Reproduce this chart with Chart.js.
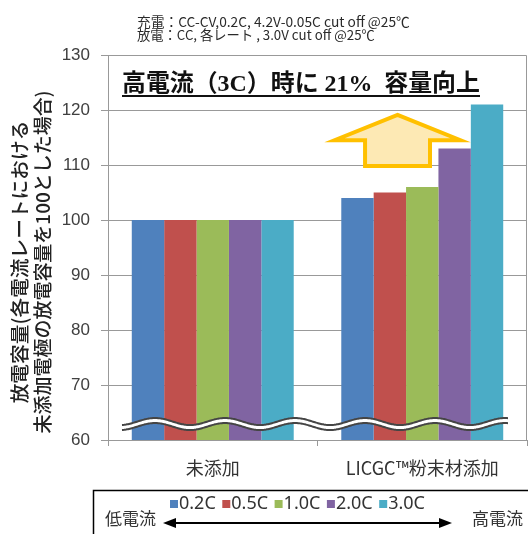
<!DOCTYPE html>
<html>
<head>
<meta charset="utf-8">
<script src="https://cdn.jsdelivr.net/npm/chart.js@4.4.1/dist/chart.umd.min.js"></script>
<style>
    html, body { margin: 0; padding: 0; background: #fff; }
    #wrap { width: 528px; height: 534px; }
</style>
</head>
<body>
<div id="wrap"><canvas id="rateChart" width="528" height="534"></canvas></div>
<script>
// --- data ---
const categories = ['未添加', 'LICGC™粉末材添加'];
const rateLabels = ['0.2C', '0.5C', '1.0C', '2.0C', '3.0C'];
const capacity02C = [100, 104];
const capacity05C = [100, 105];
const capacity10C = [100, 106];
const capacity20C = [100, 113];
const capacity30C = [100, 121];
const yTicks = [60, 70, 80, 90, 100, 110, 120, 130];

const headerLines = ['充電：CC-CV,0.2C, 4.2V-0.05C cut off @25℃', '放電：CC, 各レート , 3.0V cut off @25℃'];
const yTitleLines = ['放電容量(各電流レートにおける', '未添加電極の放電容量を100とした場合)'];
const calloutText = '高電流（3C）時に 21%  容量向上';
const lowLabel = '低電流';
const highLabel = '高電流';

const rateColors = ['#4F81BD', '#C0504D', '#9BBB59', '#8064A2', '#4BACC6'];
const seriesValues = [capacity02C, capacity05C, capacity10C, capacity20C, capacity30C];

const CJK = '"Noto Sans CJK JP", "Noto Sans", sans-serif';

// fit a string into a given width by scaling the font size
function fitFont(ctx, text, weight, family, size, width) {
    ctx.font = `${weight} ${size}px ${family}`;
    const w = ctx.measureText(text).width;
    const s = size * width / w;
    ctx.font = `${weight} ${s.toFixed(2)}px ${family}`;
}

// frame round the plot area (top and right sides)
const plotFrame = {
    id: 'plotFrame',
    beforeDatasetsDraw(chart) {
        const { ctx, chartArea: a } = chart;
        ctx.save();
        ctx.strokeStyle = '#999';
        ctx.lineWidth = 1;
        ctx.beginPath();
        ctx.moveTo(a.left, a.top + 0.5);
        ctx.lineTo(a.right - 0.5, a.top + 0.5);
        ctx.lineTo(a.right - 0.5, a.bottom);
        ctx.stroke();
        ctx.restore();
    }
};

// wavy axis break drawn over the bars
const axisBreak = {
    id: 'axisBreak',
    afterDatasetsDraw(chart) {
        const { ctx, chartArea: a } = chart;
        const y = chart.scales.y;
        const upper = y.getPixelForValue(63.36);
        const lower = y.getPixelForValue(62.45);
        const x0 = a.left + 14, x1 = a.right - 19;
        const period = 70, amp = 3.5, peak = a.left + 47;
        const wave = (x, c) => c - amp * Math.cos(2 * Math.PI * (x - peak) / period);

        ctx.save();
        ctx.fillStyle = '#fff';
        ctx.beginPath();
        for (let x = x0; x <= x1; x++) ctx.lineTo(x, wave(x, upper));
        for (let x = x1; x >= x0; x--) ctx.lineTo(x, wave(x, lower));
        ctx.closePath();
        ctx.fill();

        ctx.strokeStyle = '#454545';
        ctx.lineWidth = 2;
        [upper, lower].forEach(c => {
            ctx.beginPath();
            for (let x = x0; x <= x1; x++) ctx.lineTo(x, wave(x, c));
            ctx.stroke();
        });
        ctx.restore();
    }
};

// underlined note and the big yellow arrow
const callout = {
    id: 'callout',
    afterDatasetsDraw(chart) {
        const { ctx } = chart;
        const xs = chart.scales.x, ys = chart.scales.y;
        const catW = xs.getPixelForValue(1) - xs.getPixelForValue(0);
        const cx = xs.getPixelForValue(1) - 0.118 * catW;
        const wing = 0.3 * catW, stem = 0.155 * catW;
        const tip = ys.getPixelForValue(119.1);
        const shoulder = ys.getPixelForValue(114.5);
        const base = ys.getPixelForValue(109.8);

        ctx.save();
        ctx.beginPath();
        ctx.moveTo(cx, tip);
        ctx.lineTo(cx + wing, shoulder);
        ctx.lineTo(cx + stem, shoulder);
        ctx.lineTo(cx + stem, base);
        ctx.lineTo(cx - stem, base);
        ctx.lineTo(cx - stem, shoulder);
        ctx.lineTo(cx - wing, shoulder);
        ctx.closePath();
        ctx.fillStyle = '#FDE9B4';
        ctx.fill();
        ctx.strokeStyle = '#FFC000';
        ctx.lineWidth = 4;
        ctx.lineJoin = 'miter';
        ctx.miterLimit = 12;
        ctx.stroke();

        // note text
        const left = 122, width = 358, baseY = 91;
        fitFont(ctx, calloutText, 'bold', '"Liberation Serif", "Noto Sans CJK JP", serif', 22, width);
        ctx.fillStyle = '#111';
        ctx.textAlign = 'left';
        ctx.textBaseline = 'alphabetic';
        ctx.fillText(calloutText, left, baseY);
        ctx.fillRect(left, baseY + 4, width, 2);
        ctx.restore();
    }
};

// texts outside the plot: conditions on top and the y title
const outerTexts = {
    id: 'outerTexts',
    afterDraw(chart) {
        const { ctx } = chart;
        ctx.save();
        ctx.fillStyle = '#2a2a2a';
        ctx.textAlign = 'left';
        ctx.textBaseline = 'middle';
        fitFont(ctx, headerLines[0], 'normal', CJK, 12.5, 273);
        ctx.fillText(headerLines[0], 137, 22);
        fitFont(ctx, headerLines[1], 'normal', CJK, 12.5, 238);
        ctx.fillText(headerLines[1], 137, 35);

        // y title, two rotated lines
        ctx.fillStyle = '#222';
        ctx.textAlign = 'center';
        const spans = [283, 343];
        const cols = [20, 42.5];
        yTitleLines.forEach((line, i) => {
            ctx.save();
            ctx.translate(cols[i], 262);
            ctx.rotate(-Math.PI / 2);
            fitFont(ctx, line, '500', CJK, 19, spans[i]);
            ctx.fillText(line, 0, 0);
            ctx.restore();
        });
        ctx.restore();
    }
};

// legend box with current-direction arrow
const rateLegend = {
    id: 'rateLegend',
    afterDraw(chart) {
        const { ctx } = chart;
        ctx.save();
        ctx.strokeStyle = '#000';
        ctx.lineWidth = 1.5;
        ctx.strokeRect(93.5, 490.5, 500, 100);

        ctx.textBaseline = 'middle';
        ctx.textAlign = 'left';
        ctx.font = '18px "Noto Sans", sans-serif';
        rateLabels.forEach((label, i) => {
            const x = 170 + i * 52.3;
            ctx.fillStyle = rateColors[i];
            ctx.fillRect(x, 500, 8, 8);
            ctx.fillStyle = '#333';
            ctx.fillText(label, x + 9, 504);
        });

        ctx.font = '17px ' + CJK;
        ctx.fillStyle = '#333';
        ctx.fillText(lowLabel, 105, 519);
        ctx.fillText(highLabel, 472, 519);

        // double-headed arrow
        const ay = 523, ax0 = 163, ax1 = 452;
        ctx.strokeStyle = '#000';
        ctx.lineWidth = 2;
        ctx.beginPath();
        ctx.moveTo(ax0 + 8, ay);
        ctx.lineTo(ax1 - 8, ay);
        ctx.stroke();
        ctx.fillStyle = '#000';
        ctx.beginPath();
        ctx.moveTo(ax0, ay);
        ctx.lineTo(ax0 + 13, ay - 5);
        ctx.lineTo(ax0 + 13, ay + 5);
        ctx.closePath();
        ctx.fill();
        ctx.beginPath();
        ctx.moveTo(ax1, ay);
        ctx.lineTo(ax1 - 13, ay - 5);
        ctx.lineTo(ax1 - 13, ay + 5);
        ctx.closePath();
        ctx.fill();
        ctx.restore();
    }
};

const datasets = rateLabels.map((label, i) => ({
    label: label,
    data: seriesValues[i],
    backgroundColor: rateColors[i],
    borderWidth: 0,
    barPercentage: 1.0,
    categoryPercentage: 0.773
}));

new Chart(document.getElementById('rateChart'), {
    type: 'bar',
    data: { labels: categories, datasets: datasets },
    options: {
        responsive: false,
        animation: false,
        devicePixelRatio: 1,
        layout: { padding: { top: 55, right: 1, left: 0, bottom: 0 } },
        plugins: {
            legend: { display: false },
            tooltip: { enabled: false },
            title: { display: false }
        },
        scales: {
            x: {
                offset: true,
                grid: {
                    offset: true,
                    drawOnChartArea: false,
                    drawTicks: true,
                    tickLength: 6,
                    tickColor: '#999'
                },
                border: { color: '#999' },
                ticks: {
                    color: '#333',
                    padding: 11,
                    font: { family: CJK, size: 18 }
                },
                afterFit: scale => { scale.height = 94; }
            },
            y: {
                min: yTicks[0],
                max: yTicks[yTicks.length - 1],
                afterBuildTicks: scale => { scale.ticks = yTicks.map(v => ({ value: v })); },
                grid: {
                    color: ctx => (ctx.tick && (ctx.tick.value === 60 || ctx.tick.value === 130)) ? 'rgba(0,0,0,0)' : '#999',
                    borderDash: [5, 4],
                    tickBorderDash: [],
                    tickColor: '#999',
                    tickLength: 7
                },
                border: { color: '#999' },
                ticks: {
                    color: '#404040',
                    padding: 11,
                    font: { family: '"Liberation Sans", Arial, sans-serif', size: 17 }
                },
                afterFit: scale => { scale.width = 108; }
            }
        }
    },
    plugins: [plotFrame, axisBreak, callout, outerTexts, rateLegend]
});
</script>
</body>
</html>
